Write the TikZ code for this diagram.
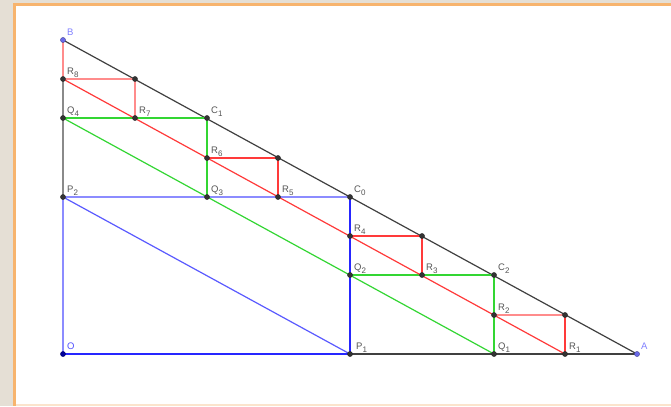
\documentclass[tikz,border=0pt]{standalone}
\usepackage{fontspec}
\setmainfont{Liberation Sans}
\definecolor{bgbeige}{HTML}{E5DFD5}
\definecolor{frameor}{HTML}{F7B46E}
\definecolor{framelt}{HTML}{FBE4CD}
\definecolor{lnblack}{HTML}{404040}
\definecolor{lngray}{HTML}{8A8A8A}
\definecolor{lnblue}{HTML}{2626FF}
\definecolor{lnbluemid}{HTML}{5A5AFF}
\definecolor{lnbluelt}{HTML}{8C8CFF}
\definecolor{lngreen}{HTML}{33D633}
\definecolor{lnred}{HTML}{FF3A3A}
\definecolor{lnredlt}{HTML}{FF8C8C}
\definecolor{ptfill}{HTML}{333333}
\definecolor{ptblue}{HTML}{6A6AE6}
\definecolor{ptdblue}{HTML}{000099}
\definecolor{labgray}{HTML}{555555}
\definecolor{labblue}{HTML}{8080FF}
\definecolor{labOblue}{HTML}{5050FF}
\newcommand{\mylab}[2]{#1\raisebox{-3.2bp}{\fontsize{8bp}{8bp}\selectfont #2}}
\tikzset{
  seg/.style={line width=1.2bp},
  ptdot/.style={circle, fill=ptfill, draw=black!85, line width=0.3bp, inner sep=0pt, minimum size=5.2bp},
  ptdotb/.style={ptdot, fill=ptblue, draw=ptblue!60!black},
  ptdoto/.style={ptdot, fill=ptdblue, draw=ptdblue!70!black},
  labtxt/.style={anchor=base west, inner sep=0pt, text=labgray, font=\fontsize{9.5bp}{10bp}\selectfont, xshift=4bp, yshift=5bp}
}
\begin{document}
\begin{tikzpicture}[x=1bp,y=1bp]
% background and frame
\fill[bgbeige] (-63,-52) rectangle (608,354);
\fill[frameor] (-50,-52) rectangle (608,351);
\fill[white] (-47,-50) rectangle (608,348);
\fill[framelt] (-47,-52) rectangle (608,-50);
\useasboundingbox (-63,-52) rectangle (608,354);
% points
\coordinate (O) at (0,0);
\coordinate (A) at (574,0);
\coordinate (B) at (0,314);
\coordinate (P1) at (287,0);
\coordinate (P2) at (0,157);
\coordinate (C0) at (287,157);
\coordinate (Q1) at (431,0);
\coordinate (Q2) at (287,79);
\coordinate (Q3) at (144,157);
\coordinate (Q4) at (0,236);
\coordinate (C1) at (144,236);
\coordinate (C2) at (431,79);
\coordinate (R1) at (502,0);
\coordinate (R2) at (431,39);
\coordinate (R3) at (359,79);
\coordinate (R4) at (287,118);
\coordinate (R5) at (215,157);
\coordinate (R6) at (144,196);
\coordinate (R7) at (72,236);
\coordinate (R8) at (0,275);
\coordinate (U1) at (502,39);
\coordinate (U2) at (359,118);
\coordinate (U3) at (215,196);
\coordinate (U4) at (72,275);
% black / gray lines
\draw[seg, lnblack] (B) -- (A);
\draw[seg, lnblack] (P1) -- (A);
\draw[seg, lngray] (R8) -- (P2);
% blue
\draw[seg, lnbluelt] (O) -- (P2);
\draw[seg, lnbluelt] (P2) -- (C0);
\draw[seg, lnbluemid] (P2) -- (P1);
\draw[seg, lnblue] (O) -- (P1);
\draw[seg, lnblue] (C0) -- (P1);
% green
\draw[seg, lngreen] (Q4) -- (C1);
\draw[seg, lngreen] (C1) -- (Q3);
\draw[seg, lngreen] (Q2) -- (C2);
\draw[seg, lngreen] (C2) -- (Q1);
\draw[seg, lngreen] (Q4) -- (Q1);
% red
\draw[seg, lnredlt] (B) -- (R8);
\draw[seg, lnred] (R8) -- (R1);
\draw[seg, lnredlt] (R8) -- (U4);
\draw[seg, lnredlt] (U4) -- (R7);
\draw[seg, lnred] (R6) -- (U3);
\draw[seg, lnred] (U3) -- (R5);
\draw[seg, lnred] (R4) -- (U2);
\draw[seg, lnred] (U2) -- (R3);
\draw[seg, lnredlt] (R2) -- (U1);
\draw[seg, lnred] (U1) -- (R1);
% dots
\foreach \p in {P1,P2,C0,C1,C2,Q1,Q2,Q3,Q4,R1,R2,R3,R4,R5,R6,R7,R8,U1,U2,U3,U4}
  \node[ptdot] (d\p) at (\p) {};
\node[ptdotb] (dA) at (A) {};
\node[ptdotb] (dB) at (B) {};
\node[ptdoto] (dO) at (O) {};
% labels
\node[labtxt, text=labblue] (lB) at (B) {B};
\node[labtxt, text=labblue] (lA) at (A) {A};
\node[labtxt, text=labOblue] (lO) at (O) {O};
\node[labtxt, xshift=2bp] (lP1) at (P1) {\mylab{P}{1}};
\node[labtxt] (lP2) at (P2) {\mylab{P}{2}};
\node[labtxt] (lC0) at (C0) {\mylab{C}{0}};
\node[labtxt] (lC1) at (C1) {\mylab{C}{1}};
\node[labtxt] (lC2) at (C2) {\mylab{C}{2}};
\node[labtxt] (lQ1) at (Q1) {\mylab{Q}{1}};
\node[labtxt] (lQ2) at (Q2) {\mylab{Q}{2}};
\node[labtxt] (lQ3) at (Q3) {\mylab{Q}{3}};
\node[labtxt] (lQ4) at (Q4) {\mylab{Q}{4}};
\node[labtxt] (lR1) at (R1) {\mylab{R}{1}};
\node[labtxt] (lR2) at (R2) {\mylab{R}{2}};
\node[labtxt] (lR3) at (R3) {\mylab{R}{3}};
\node[labtxt] (lR4) at (R4) {\mylab{R}{4}};
\node[labtxt] (lR5) at (R5) {\mylab{R}{5}};
\node[labtxt] (lR6) at (R6) {\mylab{R}{6}};
\node[labtxt] (lR7) at (R7) {\mylab{R}{7}};
\node[labtxt] (lR8) at (R8) {\mylab{R}{8}};
\end{tikzpicture}
\end{document}
